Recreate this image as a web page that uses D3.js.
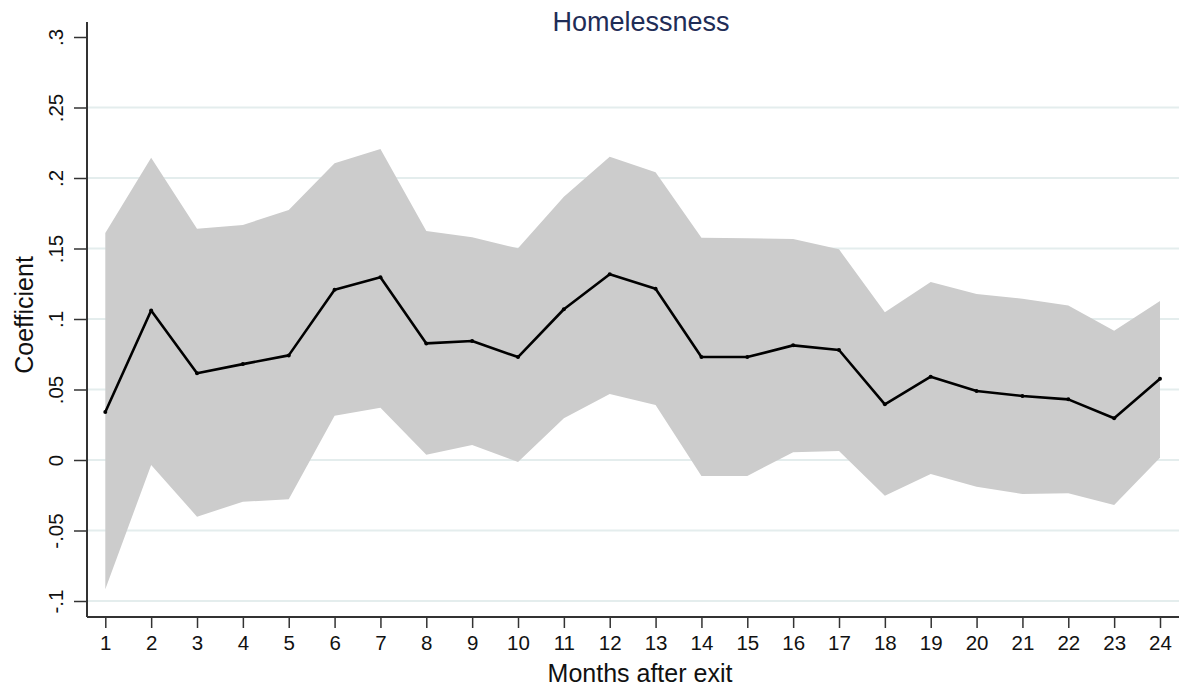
<!DOCTYPE html>
<html>
<head>
<meta charset="utf-8">
<script src="https://cdn.jsdelivr.net/npm/d3@7"></script>
<style>
  html, body { margin: 0; padding: 0; background: #fff; }
  svg { display: block; font-family: "Liberation Sans", Arial, Helvetica, sans-serif; }
</style>
</head>
<body>
<svg id="chart" width="1179" height="690"></svg>
<script>
// Months after exit
const months = d3.range(1, 25);
// Point estimates
const coef = [0.034, 0.106, 0.0615, 0.068, 0.0742, 0.1208, 0.1296, 0.0827, 0.0844, 0.073,
              0.1069, 0.1317, 0.1215, 0.073, 0.073, 0.0813, 0.078, 0.0395, 0.0591, 0.0489,
              0.0454, 0.043, 0.0296, 0.0577];
// Upper confidence bound
const upper = [0.161, 0.2144, 0.164, 0.1667, 0.1773, 0.2104, 0.2206, 0.1624, 0.158, 0.1501,
               0.1867, 0.2151, 0.204, 0.1577, 0.1572, 0.1567, 0.1494, 0.1047, 0.1262, 0.1177,
               0.1144, 0.1095, 0.0917, 0.1128];
// Lower confidence bound
const lower = [-0.0917, -0.0035, -0.0402, -0.0296, -0.0279, 0.0314, 0.0371, 0.0038, 0.0106, -0.0014,
               0.0296, 0.0468, 0.039, -0.0113, -0.0113, 0.0055, 0.0064, -0.0253, -0.0099, -0.0189,
               -0.0241, -0.0236, -0.0319, 0.0016];
// Axis ticks
const yTicks = [-0.1, -0.05, 0, 0.05, 0.1, 0.15, 0.2, 0.25, 0.3];
const yTickLabels = ["-.1", "-.05", "0", ".05", ".1", ".15", ".2", ".25", ".3"];
const gridTicks = [-0.1, -0.05, 0, 0.05, 0.1, 0.15, 0.2, 0.25];

const title = "Homelessness";
const xTitle = "Months after exit";
const yTitle = "Coefficient";

const rows = months.map((m, i) => ({ m, c: coef[i], hi: upper[i], lo: lower[i] }));

const svg = d3.select("#chart");
const W = 1179;
const axisLeft = 87, axisBottom = 617, axisTop = 22;

const x = d3.scaleLinear().domain([1, 24]).range([105.3, 1160]);
const y = d3.scaleLinear().domain([0, 0.3]).range([460, 37]);

// gridlines
svg.append("g")
  .selectAll("line")
  .data(gridTicks)
  .join("line")
  .attr("x1", axisLeft).attr("x2", W)
  .attr("y1", d => y(d)).attr("y2", d => y(d))
  .attr("stroke", "#e4eded")
  .attr("stroke-width", 2);

// confidence band
svg.append("path")
  .datum(rows)
  .attr("d", d3.area().x(d => x(d.m)).y0(d => y(d.lo)).y1(d => y(d.hi)))
  .attr("fill", "#cccccc");

// estimate line
svg.append("path")
  .datum(rows)
  .attr("d", d3.line().x(d => x(d.m)).y(d => y(d.c)))
  .attr("fill", "none")
  .attr("stroke", "#000")
  .attr("stroke-width", 2.6)
  .attr("stroke-linejoin", "round");

svg.append("g")
  .selectAll("circle")
  .data(rows)
  .join("circle")
  .attr("cx", d => x(d.m)).attr("cy", d => y(d.c))
  .attr("r", 2)
  .attr("fill", "#000");

// y axis
const yAxis = d3.axisLeft(y)
  .tickValues(yTicks)
  .tickFormat((d, i) => yTickLabels[i])
  .tickSize(13)
  .tickPadding(8);
const gy = svg.append("g")
  .attr("transform", `translate(${axisLeft},0)`)
  .call(yAxis);
gy.select(".domain").remove();
gy.selectAll(".tick line").attr("stroke", "#333").attr("stroke-width", 1.5);
gy.selectAll(".tick text")
  .attr("font-size", 20.5)
  .attr("fill", "#111")
  .attr("text-anchor", "middle")
  .attr("x", 0).attr("dy", 0)
  .attr("transform", "translate(-32,0) rotate(-90)")
  .attr("dominant-baseline", "central");
svg.append("line")
  .attr("x1", axisLeft).attr("x2", axisLeft)
  .attr("y1", axisTop).attr("y2", axisBottom)
  .attr("stroke", "#333").attr("stroke-width", 2);

// x axis
const xAxis = d3.axisBottom(x)
  .tickValues(months)
  .tickFormat(d3.format("d"))
  .tickSize(11)
  .tickPadding(7);
const gx = svg.append("g")
  .attr("transform", `translate(0,${axisBottom})`)
  .call(xAxis);
gx.select(".domain").remove();
gx.selectAll(".tick line").attr("stroke", "#333").attr("stroke-width", 1.5);
gx.selectAll(".tick text").attr("font-size", 20.5).attr("fill", "#111");
svg.append("line")
  .attr("x1", axisLeft).attr("x2", W)
  .attr("y1", axisBottom).attr("y2", axisBottom)
  .attr("stroke", "#333").attr("stroke-width", 2);

// titles
svg.append("text")
  .attr("x", 641).attr("y", 31)
  .attr("text-anchor", "middle")
  .attr("font-size", 27)
  .attr("fill", "#1f2d57")
  .text(title);

svg.append("text")
  .attr("x", 640).attr("y", 682)
  .attr("text-anchor", "middle")
  .attr("font-size", 25)
  .attr("fill", "#111")
  .text(xTitle);

svg.append("text")
  .attr("transform", "translate(33,315) rotate(-90)")
  .attr("text-anchor", "middle")
  .attr("font-size", 25)
  .attr("fill", "#111")
  .text(yTitle);
</script>
</body>
</html>
